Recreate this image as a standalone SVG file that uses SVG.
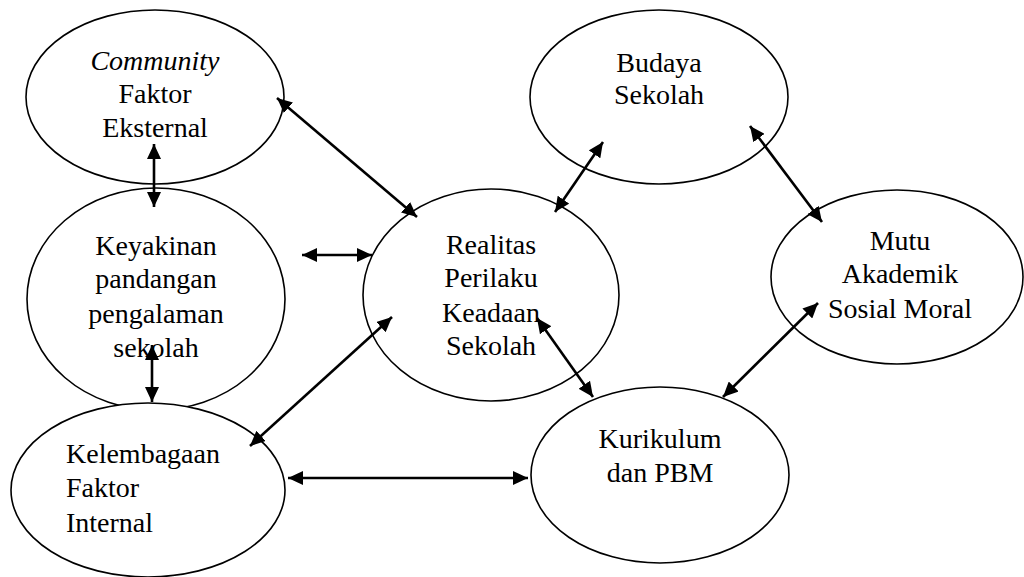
<svg xmlns="http://www.w3.org/2000/svg" width="1024" height="577" viewBox="0 0 1024 577">
<style>
.node ellipse{fill:#fff;stroke:#000;stroke-width:1.6}
.node text{font-family:'Times New Roman','Liberation Serif',Tinos,'Noto Serif','DejaVu Serif',FreeSerif,serif;font-size:28px;fill:#000}
.c{text-anchor:middle}
#connectors line{stroke:#000;stroke-width:2.6;marker-start:url(#ah);marker-end:url(#ah)}
</style>
<defs>
<marker id="ah" markerUnits="userSpaceOnUse" markerWidth="16" markerHeight="14" refX="15" refY="7" orient="auto-start-reverse">
<path d="M0,0 L15,7 L0,14 z" fill="#000"/>
</marker>
</defs>
<rect width="1024" height="577" fill="#fff"/>
<g id="n-community" class="node">
<ellipse cx="155" cy="97" rx="129" ry="87"/>
<text class="c" x="155" y="70" font-style="italic">Community</text>
<text class="c" x="155" y="103">Faktor</text>
<text class="c" x="155" y="137">Eksternal</text>
</g>
<g id="n-keyakinan" class="node">
<ellipse cx="156" cy="299" rx="129" ry="111"/>
<text class="c" x="156" y="255">Keyakinan</text>
<text class="c" x="156" y="288">pandangan</text>
<text class="c" x="156" y="323">pengalaman</text>
<text class="c" x="156" y="357">sekolah</text>
</g>
<g id="n-kelembagaan" class="node">
<ellipse cx="148" cy="490" rx="137" ry="87"/>
<text x="66" y="463">Kelembagaan</text>
<text x="66" y="497">Faktor</text>
<text x="66" y="532">Internal</text>
</g>
<g id="n-realitas" class="node">
<ellipse cx="491" cy="295" rx="128" ry="106"/>
<text class="c" x="491" y="254">Realitas</text>
<text class="c" x="491" y="287">Perilaku</text>
<text class="c" x="491" y="322">Keadaan</text>
<text class="c" x="491" y="355">Sekolah</text>
</g>
<g id="n-budaya" class="node">
<ellipse cx="659" cy="97" rx="129" ry="87"/>
<text class="c" x="659" y="72">Budaya</text>
<text class="c" x="659" y="104">Sekolah</text>
</g>
<g id="n-mutu" class="node">
<ellipse cx="897" cy="277" rx="126" ry="87"/>
<text class="c" x="900" y="250">Mutu</text>
<text class="c" x="900" y="283">Akademik</text>
<text class="c" x="900" y="318">Sosial Moral</text>
</g>
<g id="n-kurikulum" class="node">
<ellipse cx="660" cy="475" rx="129" ry="88"/>
<text class="c" x="660" y="448">Kurikulum</text>
<text class="c" x="660" y="482">dan PBM</text>
</g>
<g id="connectors">
<line x1="277" y1="98" x2="417" y2="217"/>
<line x1="154" y1="144" x2="154" y2="207"/>
<line x1="302" y1="255" x2="372" y2="255"/>
<line x1="152" y1="345" x2="152" y2="402"/>
<line x1="250" y1="446" x2="392" y2="317"/>
<line x1="288" y1="478" x2="528" y2="478"/>
<line x1="555" y1="212" x2="603" y2="142"/>
<line x1="750" y1="126" x2="822" y2="222"/>
<line x1="537" y1="318" x2="593" y2="397"/>
<line x1="818" y1="303" x2="723" y2="397"/>
</g>
</svg>
